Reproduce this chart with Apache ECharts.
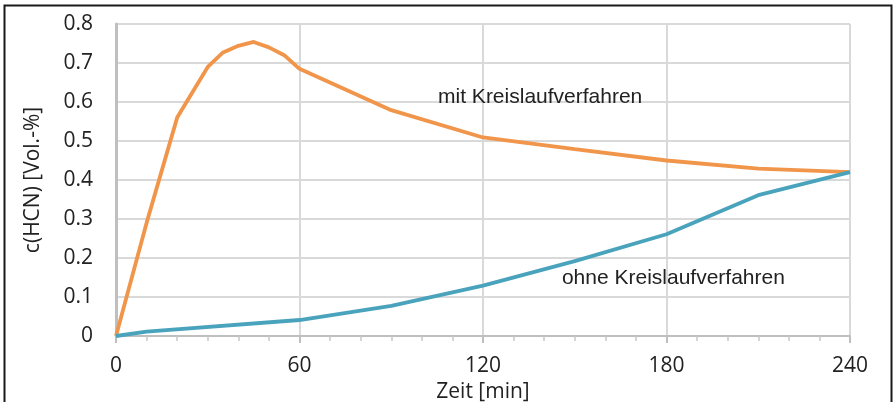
<!DOCTYPE html>
<html><head><meta charset="utf-8">
<script src="https://cdn.jsdelivr.net/npm/echarts@6/dist/echarts.min.js"></script>
<style>html,body{margin:0;padding:0;background:#fff;}#c{width:895px;height:402px;}</style>
</head><body><div id="c"></div>
<script>
var timeMit = [0, 10, 20, 30, 35, 40, 45, 50, 55, 60, 90, 120, 150, 180, 210, 240];
var valuesMit = [0, 0.29, 0.56, 0.69, 0.727, 0.744, 0.754, 0.74, 0.72, 0.685, 0.579, 0.509, 0.479, 0.45, 0.429, 0.42];
var timeOhne = [0, 10, 60, 90, 120, 150, 180, 210, 240];
var valuesOhne = [0, 0.011, 0.041, 0.077, 0.129, 0.192, 0.261, 0.361, 0.42];
var xTicks = [0, 60, 120, 180, 240];
var yTicks = [0, 0.1, 0.2, 0.3, 0.4, 0.5, 0.6, 0.7, 0.8];
var labelMit = {text: 'mit Kreislaufverfahren', x: 105.3, y: 0.613};
var labelOhne = {text: 'ohne Kreislaufverfahren', x: 145.8, y: 0.149};

function pairs(xs, ys){ return xs.map(function(x,i){return [x, ys[i]];}); }

var chart = echarts.init(document.getElementById('c'));
var tickFont = {fontFamily: 'Open Sans', fontSize: 21, color: '#222'};
chart.setOption({
  animation: false,
  grid: {left: 116, right: 45, top: 24, bottom: 66, outerBoundsMode: 'none', containLabel: false},
  xAxis: {
    type: 'value', min: xTicks[0], max: xTicks[xTicks.length-1], interval: 60,
    axisLine: {show: true, lineStyle: {color: '#bfbfbf', width: 2}},
    axisTick: {show: true, length: 7, lineStyle: {color: '#bfbfbf', width: 2}},
    minorTick: {show: true, splitNumber: 6, length: 5, lineStyle: {color: '#c8c8c8', width: 1.5}},
    splitLine: {show: true, lineStyle: {color: '#d9d9d9', width: 2}},
    axisLabel: Object.assign({margin: 20}, tickFont),
    name: 'Zeit [min]', nameLocation: 'middle', nameGap: 33,
    nameTextStyle: {fontFamily: 'Open Sans', fontSize: 21, color: '#222'}
  },
  yAxis: {
    type: 'value', min: 0, max: 0.8, interval: 0.1,
    axisLine: {show: true, lineStyle: {color: '#bfbfbf', width: 3}},
    axisTick: {show: false},
    splitLine: {show: true, lineStyle: {color: '#d9d9d9', width: 2}},
    axisLabel: Object.assign({margin: 23, formatter: function(v){ return v === 0 ? '0' : v.toFixed(1); }}, tickFont),
    name: 'c(HCN) [Vol.-%]', nameLocation: 'middle', nameGap: 72,
    nameTextStyle: {fontFamily: 'Open Sans', fontSize: 21, color: '#222'}
  },
  series: [
    {type: 'line', data: pairs(timeMit, valuesMit), showSymbol: false, symbol: 'none',
     lineStyle: {color: '#F0954A', width: 3.8}, z: 3},
    {type: 'line', data: pairs(timeOhne, valuesOhne), showSymbol: false, symbol: 'none',
     lineStyle: {color: '#4AA3BC', width: 3.8}, z: 4}
  ]
});

function txt(l){
  var p = chart.convertToPixel({gridIndex: 0}, [l.x, l.y]);
  return {type: 'text', x: p[0], y: p[1], style: {text: l.text, font: '21px "Liberation Sans"', fill: '#222', textVerticalAlign: 'middle', verticalAlign: 'middle'}};
}
chart.setOption({
  graphic: [
    txt(labelMit), txt(labelOhne),
    {type: 'rect', shape: {x: 4.5, y: 5.5, width: 887, height: 420}, style: {fill: 'none', stroke: '#1a1a1a', lineWidth: 2}, silent: true}
  ]
});
</script></body></html>
